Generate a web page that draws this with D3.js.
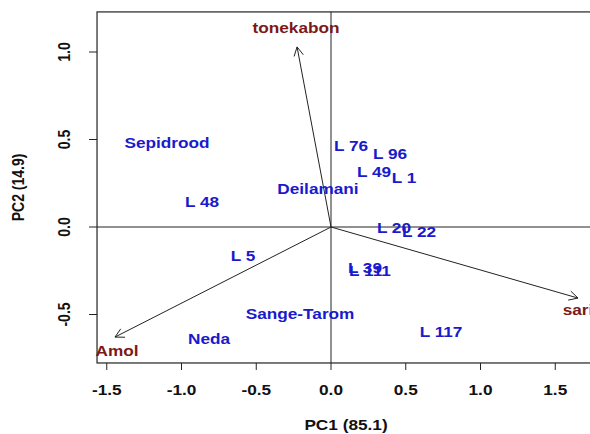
<!DOCTYPE html>
<html><head><meta charset="utf-8">
<script src="https://cdn.jsdelivr.net/npm/d3@7"></script>
<style>body{margin:0;background:#fff;overflow:hidden}</style>
</head><body><svg id="c" width="590" height="434"></svg>
<script>
const obsNames = ["Sepidrood","L 48","Deilamani","L 76","L 96","L 49","L 1","L 20","L 22","L 39","L 111","L 117","Sange-Tarom","Neda","L 5"];
const obsPC1 = [-1.097,-0.863,-0.087,0.134,0.395,0.288,0.488,0.421,0.589,0.227,0.261,0.736,-0.207,-0.816,-0.589];
const obsPC2 = [0.48,0.143,0.217,0.463,0.417,0.314,0.28,-0.009,-0.029,-0.234,-0.251,-0.6,-0.497,-0.64,-0.166];
const varNames = ["tonekabon","Amol","sari"];
const varPC1 = [-0.227,-1.445,1.652];
const varPC2 = [1.029,-0.629,-0.406];
const varLabPC1 = [-0.234,-1.431,1.652];
const varLabPC2 = [1.137,-0.709,-0.474];
const xTicks = [-1.5,-1.0,-0.5,0.0,0.5,1.0,1.5];
const yTicks = [-0.5,0.0,0.5,1.0];
const xTitle = "PC1 (85.1)", yTitle = "PC2 (14.9)";

const svg = d3.select("#c");
const x = d3.scaleLinear().domain([-1.5,1.5]).range([106.75,555.25]);
const y = d3.scaleLinear().domain([-0.5,1.0]).range([314.5,52]);
const xlim = [-1.565, 1.85], ylim = [-0.777, 1.229];
const SX = 1.23;
const font = "'Liberation Sans', Arial, sans-serif";
const blue = "#1a1acc", red = "#7d1818", ink = "#222";

const L = x(xlim[0]), R = x(xlim[1]), T = y(ylim[1]), B = y(ylim[0]);

// zero lines
svg.append("line").attr("x1",L).attr("x2",R).attr("y1",y(0)).attr("y2",y(0)).attr("stroke",ink).attr("stroke-width",1);
svg.append("line").attr("x1",x(0)).attr("x2",x(0)).attr("y1",T).attr("y2",B).attr("stroke",ink).attr("stroke-width",1);

// box
svg.append("rect").attr("x",L).attr("y",T).attr("width",R-L).attr("height",B-T)
  .attr("fill","none").attr("stroke",ink).attr("stroke-width",1.2);

function label(g, px, py, txt, color, size, rot){
  const t = g.append("g").attr("transform",`translate(${px},${py}) scale(${SX},1)` + (rot?` rotate(${rot})`:""));
  t.append("text").attr("text-anchor","middle").attr("dy","0.35em")
    .attr("font-family",font).attr("font-weight","bold").attr("font-size",size)
    .attr("fill",color).text(txt);
}

// x ticks
xTicks.forEach(v=>{
  svg.append("line").attr("x1",x(v)).attr("x2",x(v)).attr("y1",B).attr("y2",B+7).attr("stroke",ink);
  label(svg, x(v), 390, v.toFixed(1), "#111", 14);
});
// y ticks
yTicks.forEach(v=>{
  svg.append("line").attr("x1",L-8).attr("x2",L).attr("y1",y(v)).attr("y2",y(v)).attr("stroke",ink);
  label(svg, 64, y(v), v.toFixed(1), "#111", 14, -90);
});
label(svg, 346, 425, xTitle, "#111", 14);
label(svg, 18, (T+B)/2, yTitle, "#111", 14, -90);

// arrows
const ah = 10, ang = 28*Math.PI/180;
varNames.forEach((n,i)=>{
  const x0=x(0), y0=y(0), x1=x(varPC1[i]), y1=y(varPC2[i]);
  svg.append("line").attr("x1",x0).attr("y1",y0).attr("x2",x1).attr("y2",y1).attr("stroke",ink).attr("stroke-width",1);
  const a = Math.atan2(y1-y0, x1-x0);
  const p1=[x1-ah*Math.cos(a-ang), y1-ah*Math.sin(a-ang)];
  const p2=[x1-ah*Math.cos(a+ang), y1-ah*Math.sin(a+ang)];
  svg.append("path").attr("d",`M${p1}L${x1},${y1}L${p2}`).attr("fill","none").attr("stroke",ink).attr("stroke-width",1);
  label(svg, x(varLabPC1[i]), y(varLabPC2[i]), n, red, 14);
});

// observations
obsNames.forEach((n,i)=>{
  label(svg, x(obsPC1[i]), y(obsPC2[i]), n, blue, 14);
});
</script></body></html>
